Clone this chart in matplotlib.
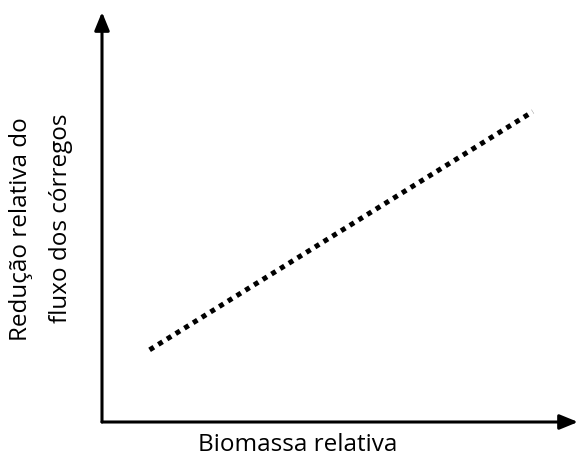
import matplotlib
matplotlib.use("Agg")
import matplotlib.pyplot as plt

# Data (relative units)
biomassa = [0.10, 0.905]
reducao = [0.176, 0.757]

xlabel = "Biomassa relativa"
ylabel_lines = ["Redução relativa do", "fluxo dos córregos"]

plt.rcParams['font.family'] = ['Open Sans', 'DejaVu Sans']

fig = plt.figure(figsize=(5.81, 4.59), dpi=100)
ax = fig.add_axes([102/581, (459-422)/459, 476/581, 410/459])
ax.set_xlim(0, 1)
ax.set_ylim(0, 1)
for s in ax.spines.values():
    s.set_visible(False)
ax.set_xticks([])
ax.set_yticks([])
ax.patch.set_alpha(0)

ax.plot(biomassa, reducao, color='black', linewidth=3.6,
        linestyle=(0, (1, 1.05)), dash_capstyle='butt', solid_capstyle='butt')

arrow = dict(arrowstyle='-|>,head_length=1.1,head_width=0.45', color='black',
             lw=2.2, shrinkA=0, shrinkB=0)
ax.annotate('', xy=(1.0, 0.0), xytext=(0.0, 0.0), xycoords='axes fraction',
            arrowprops=arrow, annotation_clip=False)
ax.annotate('', xy=(0.0, 1.0), xytext=(0.0, 0.0), xycoords='axes fraction',
            arrowprops=arrow, annotation_clip=False)

fs = 17.5
fig.text(298/581, 1 - 445/459, xlabel, ha='center', va='center', fontsize=fs)
fig.text(21/581, 1 - 229/459, ylabel_lines[0], ha='center', va='center',
         rotation=90, fontsize=fs)
fig.text(61/581, 1 - 218/459, ylabel_lines[1], ha='center', va='center',
         rotation=90, fontsize=fs)

fig.savefig("out.png", dpi=100)
